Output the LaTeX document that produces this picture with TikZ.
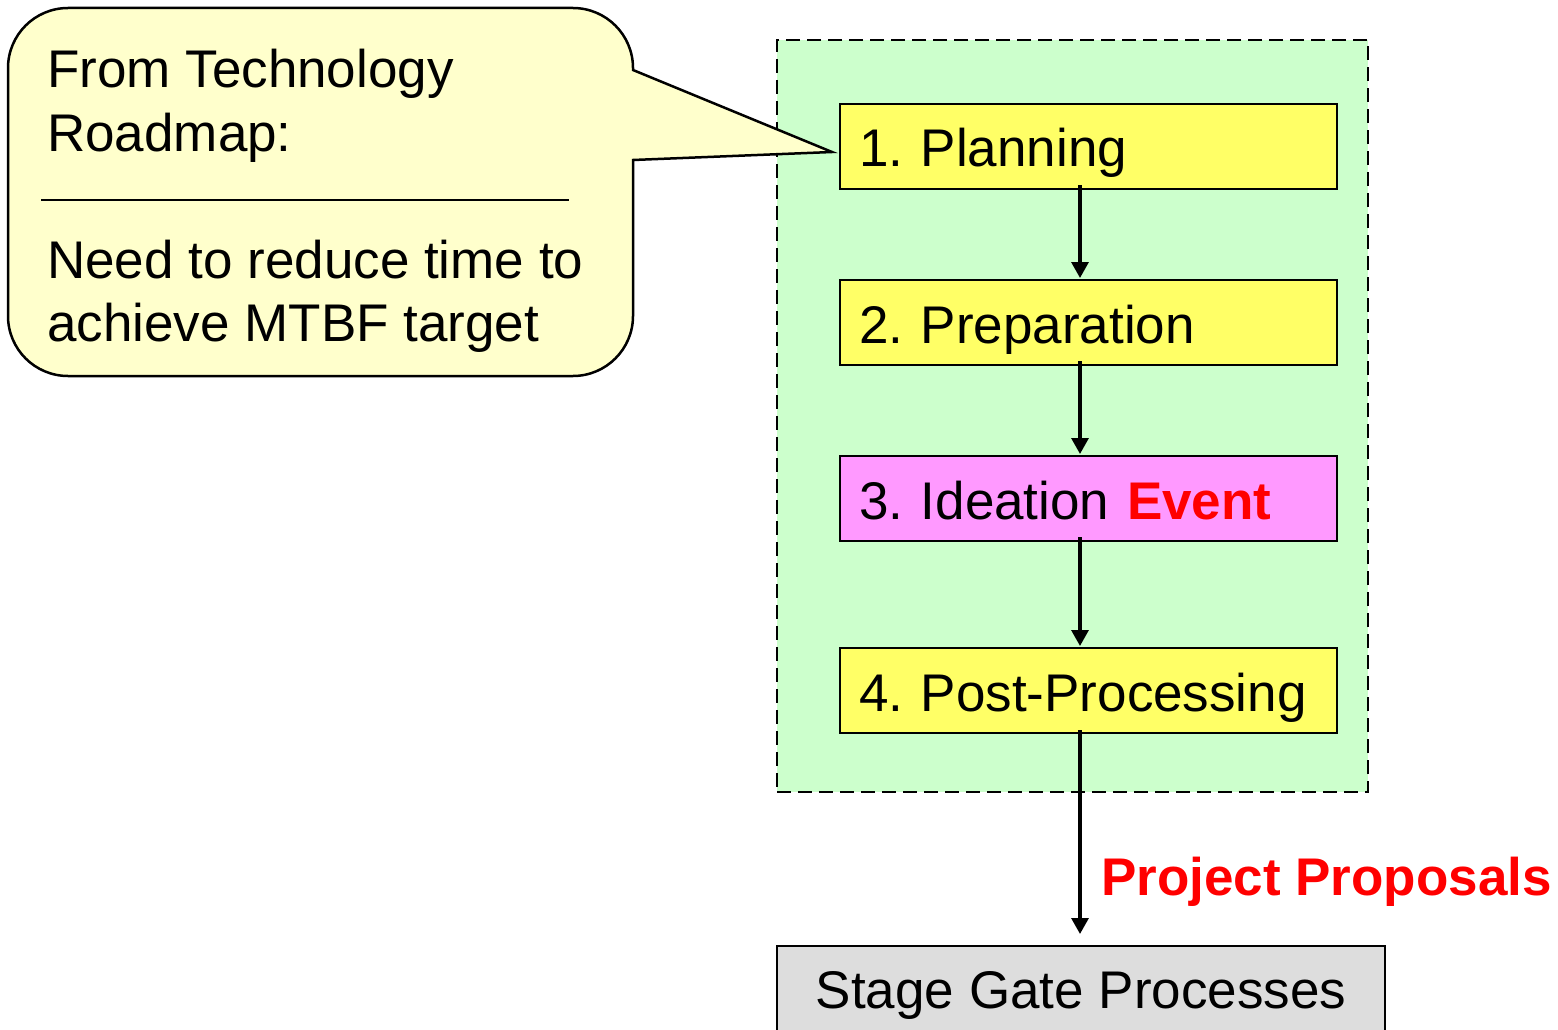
\documentclass[tikz,border=0pt]{standalone}
\usepackage{fontspec}
\setmainfont{Liberation Sans}
\usetikzlibrary{arrows.meta}
\definecolor{framegreen}{HTML}{CCFFCC}
\definecolor{stepyellow}{HTML}{FFFF66}
\definecolor{stepmagenta}{HTML}{FF99FF}
\definecolor{calloutfill}{HTML}{FFFFCC}
\definecolor{gatefill}{HTML}{DDDDDD}
\definecolor{accent}{HTML}{FF0000}
\newcommand{\bigtext}{\fontsize{53}{63}\selectfont}
\frenchspacing
\begin{document}
\begin{tikzpicture}[x=1pt,y=-1pt,
  frame/.style={draw, fill=framegreen, line width=2pt, dash pattern=on 14pt off 7pt,
    minimum width=591pt, minimum height=752pt, inner sep=0pt},
  stepbox/.style={draw, line width=2pt, minimum width=497pt, minimum height=85pt,
    text width=459pt, inner xsep=19pt, inner ysep=0pt, align=left,
    text height=41pt, text depth=0pt, font=\bigtext},
  gatebox/.style={draw, fill=gatefill, line width=2pt, minimum width=608pt,
    minimum height=94pt, inner sep=0pt, text height=30pt, text depth=0pt, font=\bigtext},
  callout/.style={draw, fill=calloutfill, line width=2.5pt, line join=miter},
  plain/.style={anchor=base west, inner sep=0pt, font=\bigtext},
  flow/.style={line width=3.2pt, -{Triangle[width=17pt,length=16pt]}}
]
\clip (0,0) rectangle (1558,1030);

% dashed frame around the four steps
\node[frame] (frame) at (1072.5,416) {};

% the four steps
\node[stepbox, fill=stepyellow]  (p1) at (1088.5,146.5) {1. Planning};
\node[stepbox, fill=stepyellow]  (p2) at (1088.5,322.5) {2. Preparation};
\node[stepbox, fill=stepmagenta] (p3) at (1088.5,498.5) {3. Ideation \textcolor{accent}{\bfseries Event}};
\node[stepbox, fill=stepyellow]  (p4) at (1088.5,690.5) {4. Post-Processing};

% downstream box
\node[gatebox] (sg) at (1081,993) {Stage Gate Processes};

% vertical line along which the connectors run
\coordinate (axis) at (1080,0);

% connectors: each starts just inside the box above it
\draw[flow] ([yshift=5pt]p1.south -| axis) -- ([yshift=1pt]p2.north -| axis);
\draw[flow] ([yshift=5pt]p2.south -| axis) -- ([yshift=1pt]p3.north -| axis);
\draw[flow] ([yshift=5pt]p3.south -| axis) -- ([yshift=1pt]p4.north -| axis);
\draw[flow] ([yshift=4pt]p4.south -| axis) -- ([yshift=11pt]sg.north -| axis);
\node[plain, font=\bigtext\bfseries, text=accent] (pp) at (1101,895) {Project Proposals};

% speech bubble pointing at the planning step
\coordinate (tip) at (832,152);
\draw[callout] (633,70) -- (tip) -- (633,160) -- (633,316)
  .. controls (633,349.1) and (606.1,376) .. (573,376) -- (68,376)
  .. controls (34.9,376) and (8,349.1) .. (8,316) -- (8,68)
  .. controls (8,34.9) and (34.9,8) .. (68,8) -- (573,8)
  .. controls (606.1,8) and (633,34.9) .. (633,68) -- cycle;

\node[plain] (c1) at (47,88)  {From Technology};
\node[plain] (c2) at (47,151) {Roadmap:};
\coordinate (sepL) at (41,200);
\coordinate (sepR) at (569,200);
\draw[line width=2pt] (sepL) -- (sepR);
\node[plain] (c3) at (47,278) {Need to reduce time to};
\node[plain] (c4) at (47,341) {achieve MTBF target};
\end{tikzpicture}
\end{document}
